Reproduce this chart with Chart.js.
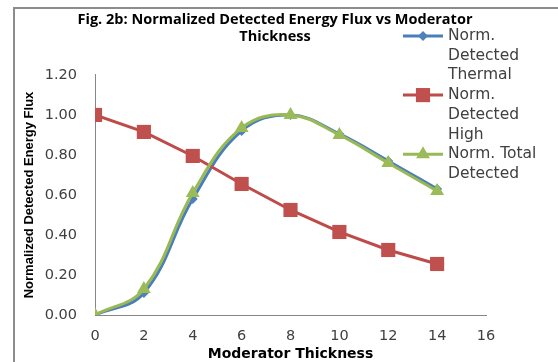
<!DOCTYPE html>
<html>
<head>
<meta charset="utf-8">
<script src="https://cdn.jsdelivr.net/npm/chart.js@4/dist/chart.umd.min.js"></script>
<style>
  html, body { margin: 0; padding: 0; background: #ffffff; }
  #wrap { width: 558px; height: 362px; position: relative; }
</style>
</head>
<body>
<div id="wrap"><canvas id="c" width="558" height="362"></canvas></div>
<script>
// Moderator thickness values (x)
const thickness = [0, 2, 4, 6, 8, 10, 12, 14];
// Normalized detected energy flux per series
const normThermal = [0.00, 0.11, 0.58, 0.92, 1.00, 0.905, 0.77, 0.63];
const normHigh    = [1.00, 0.915, 0.795, 0.655, 0.525, 0.415, 0.325, 0.255];
const normTotal   = [0.00, 0.13, 0.61, 0.935, 1.00, 0.90, 0.76, 0.62];
// Legend text, one entry per series, wrapped into lines
const seriesLabels = [
  ['Norm.', 'Detected', 'Thermal'],
  ['Norm.', 'Detected', 'High'],
  ['Norm. Total', 'Detected']
];
const titleLines = ['Fig. 2b: Normalized Detected Energy Flux vs Moderator', 'Thickness'];

const toPoints = ys => thickness.map((x, i) => ({ x: x, y: ys[i] }));

const BODY_FONT = 'DejaVu Sans, sans-serif';
const TITLE_FONT = 'Open Sans, Noto Sans, sans-serif';

// Outer frame: left and top edges of the chart box
const framePlugin = {
  id: 'frame',
  beforeDraw(chart) {
    const ctx = chart.ctx;
    ctx.save();
    ctx.strokeStyle = '#8c8c8c';
    ctx.lineWidth = 2;
    ctx.beginPath();
    ctx.moveTo(558, 8);
    ctx.lineTo(14, 8);
    ctx.lineTo(14, 362);
    ctx.stroke();
    ctx.restore();
  }
};

function drawMarker(ctx, style, x, y, r, color) {
  ctx.fillStyle = color;
  ctx.beginPath();
  if (style === 'rectRot') {
    ctx.moveTo(x, y - r); ctx.lineTo(x + r, y); ctx.lineTo(x, y + r); ctx.lineTo(x - r, y);
  } else if (style === 'rect') {
    const s = r * Math.SQRT1_2;
    ctx.rect(x - s, y - s, 2 * s, 2 * s);
  } else if (style === 'triangle') {
    ctx.moveTo(x, y - r);
    ctx.lineTo(x + r * Math.sin(Math.PI / 3), y + r / 2);
    ctx.lineTo(x - r * Math.sin(Math.PI / 3), y + r / 2);
  }
  ctx.closePath();
  ctx.fill();
}

// Legend with wrapped entries on the right-hand side
const wrapLegendPlugin = {
  id: 'wrapLegend',
  afterDraw(chart) {
    const ctx = chart.ctx;
    const lineH = 19.7;
    const x0 = 403, x1 = 443, tx = 448;
    let y = 36;
    ctx.save();
    ctx.font = '15.5px ' + BODY_FONT;
    ctx.textBaseline = 'middle';
    ctx.textAlign = 'left';
    chart.data.datasets.forEach((ds, i) => {
      ctx.strokeStyle = ds.borderColor;
      ctx.lineWidth = 3;
      ctx.beginPath();
      ctx.moveTo(x0, y); ctx.lineTo(x1, y);
      ctx.stroke();
      drawMarker(ctx, ds.pointStyle, (x0 + x1) / 2, y, ds.pointRadius, ds.pointBackgroundColor);
      ctx.fillStyle = '#404040';
      seriesLabels[i].forEach((t, k) => ctx.fillText(t, tx, y + k * lineH));
      y += seriesLabels[i].length * lineH;
    });
    ctx.restore();
  }
};

new Chart(document.getElementById('c'), {
  type: 'line',
  data: {
    datasets: [
      {
        label: seriesLabels[0].join(' '),
        data: toPoints(normThermal),
        borderColor: '#4a7ebb', backgroundColor: '#4f81bd', pointBackgroundColor: '#4f81bd',
        borderWidth: 3, pointStyle: 'rectRot', pointRadius: 5, pointBorderWidth: 0,
        tension: 0.4, order: 3
      },
      {
        label: seriesLabels[1].join(' '),
        data: toPoints(normHigh),
        borderColor: '#be4b48', backgroundColor: '#c0504d', pointBackgroundColor: '#c0504d',
        borderWidth: 3, pointStyle: 'rect', pointRadius: 10, pointBorderWidth: 0,
        tension: 0, order: 2
      },
      {
        label: seriesLabels[2].join(' '),
        data: toPoints(normTotal),
        borderColor: '#98b954', backgroundColor: '#9bbb59', pointBackgroundColor: '#9bbb59',
        borderWidth: 3, pointStyle: 'triangle', pointRadius: 8, pointBorderWidth: 0,
        tension: 0.4, order: 1
      }
    ]
  },
  options: {
    responsive: false,
    animation: false,
    devicePixelRatio: 1,
    layout: { padding: { left: 14, right: 22, top: 0, bottom: 0 } },
    plugins: {
      legend: { display: false },
      tooltip: { enabled: false },
      title: {
        display: true,
        text: titleLines,
        color: '#000000',
        font: { family: TITLE_FONT, size: 14.5, weight: 'bold', lineHeight: 1.17 },
        padding: { top: 11.5, bottom: 29.5 }
      }
    },
    scales: {
      x: {
        type: 'linear',
        min: 0, max: 16,
        grid: { display: false, drawTicks: false },
        border: { display: true, color: '#868686', width: 1 },
        ticks: { stepSize: 2, color: '#404040', padding: 13, font: { family: BODY_FONT, size: 14.5 } },
        title: {
          display: true, text: 'Moderator Thickness', color: '#000000',
          font: { family: BODY_FONT, size: 14, weight: 'bold', lineHeight: 1.1 },
          padding: { top: 0, bottom: 0 }
        },
        afterFit(scale) { scale.height = 47; }
      },
      y: {
        min: 0, max: 1.2,
        grid: { display: false, drawTicks: false },
        border: { display: true, color: '#868686', width: 1 },
        ticks: {
          stepSize: 0.2, color: '#404040', padding: 18,
          font: { family: BODY_FONT, size: 14.5 },
          callback: v => v.toFixed(2)
        },
        title: {
          display: true, text: 'Normalized Detected Energy Flux', color: '#000000',
          font: { family: 'Liberation Sans Narrow, Liberation Sans, sans-serif', size: 13, weight: 'bold', lineHeight: 1.2 },
          padding: { top: 8, bottom: 0 }
        },
        afterFit(scale) { scale.width = 81; }
      },
      // empty right-hand band that holds the space used by the legend
      legendBand: {
        axis: 'y', position: 'right', min: 0, max: 1.2,
        grid: { display: false, drawTicks: false },
        border: { display: false },
        ticks: { display: false },
        afterFit(scale) { scale.width = 50; }
      }
    }
  },
  plugins: [framePlugin, wrapLegendPlugin]
});
</script>
</body>
</html>
